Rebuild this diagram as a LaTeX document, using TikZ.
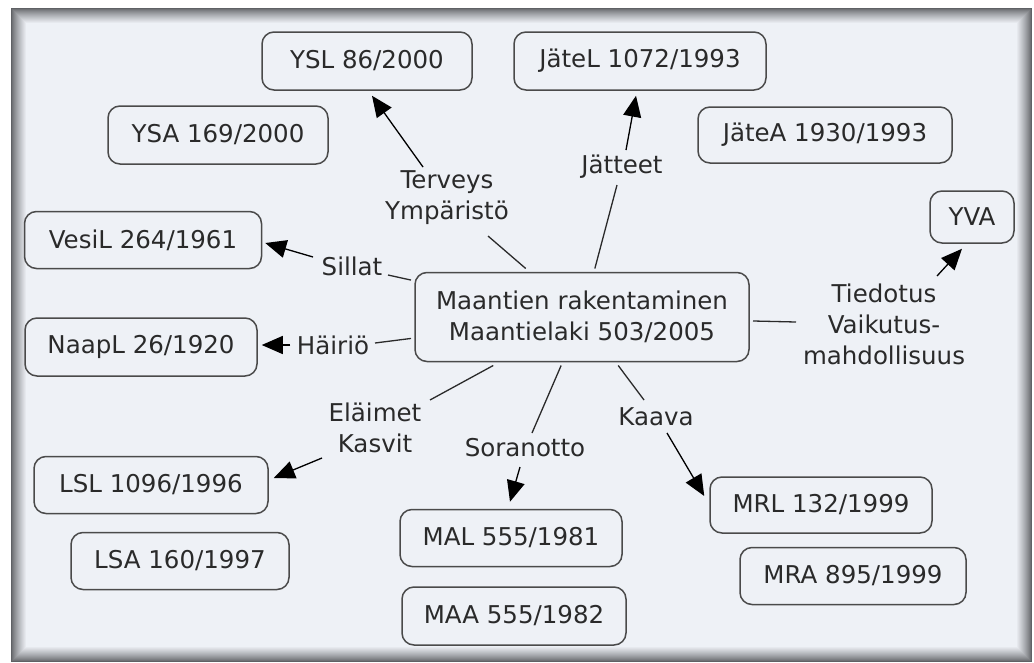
\documentclass[tikz,border=0pt]{standalone}
\usepackage{fontspec}
\setmainfont{DejaVu Sans}
\usetikzlibrary{arrows.meta,calc}
\definecolor{panelbg}{HTML}{EEF1F6}
\definecolor{ink}{HTML}{2A2A2A}
\definecolor{edge}{HTML}{4A4A4A}
\definecolor{shade}{HTML}{5F6165}
\begin{document}
\begin{tikzpicture}[x=1pt,y=-1pt,
  every node/.style={font=\fontsize{24.5}{31}\selectfont, text=ink},
  law/.style={draw=edge, line width=1.5pt, rounded corners=12pt, inner sep=0pt, align=center},
  lbl/.style={align=center, inner sep=0pt},
  conn/.style={draw=ink, line width=1.3pt},
  arr/.style={conn, -{Triangle[length=21pt,width=18pt]}, draw=black, fill=black},
]
\useasboundingbox (0,0) rectangle (1034,662);
\fill[white] (0,0) rectangle (1034,662);
% panel with inner shading
\fill[panelbg] (11,8) rectangle (1032,662);
\foreach \i in {0,...,15} {
  \pgfmathsetmacro\p{100*(\i/15)^0.8}
  \draw[draw=panelbg!\p!shade, line width=1pt] (11.5+\i,8.5+\i) rectangle (1031.5-\i,661.5-\i);
}

% law boxes
\node[law, minimum width=210pt, minimum height=58pt] (YSL) at (367,61) {YSL 86/2000};
\node[law, minimum width=220pt, minimum height=58pt] (YSA) at (218,135) {YSA 169/2000};
\node[law, minimum width=252pt, minimum height=58pt] (JL) at (640,61) {JäteL 1072/1993};
\node[law, minimum width=254pt, minimum height=56pt] (JA) at (825,135) {JäteA 1930/1993};
\node[law, minimum width=84pt, minimum height=52pt] (YVA) at (972,217) {YVA};
\node[law, minimum width=237pt, minimum height=57pt] (VL) at (143,240) {VesiL 264/1961};
\node[law, minimum width=232pt, minimum height=58pt] (NL) at (141,347) {NaapL 26/1920};
\node[law, minimum width=234pt, minimum height=57pt] (LSL) at (151,485) {LSL 1096/1996};
\node[law, minimum width=218pt, minimum height=57pt] (LSA) at (180,561) {LSA 160/1997};
\node[law, minimum width=222pt, minimum height=57pt] (MAL) at (511,538) {MAL 555/1981};
\node[law, minimum width=224pt, minimum height=58pt] (MAA) at (514,616) {MAA 555/1982};
\node[law, minimum width=222pt, minimum height=56pt] (MRL) at (821,505) {MRL 132/1999};
\node[law, minimum width=226pt, minimum height=57pt] (MRA) at (853,576) {MRA 895/1999};

% main node
\node[law, minimum width=334pt, minimum height=89pt, outer sep=4pt] (M) at (582,317) {Maantien rakentaminen\\Maantielaki 503/2005};

% linking labels
\node[lbl] (T) at (447,198) {Terveys\\Ympäristö};
\node[lbl] (J) at (622,167) {Jätteet};
\node[lbl] (S) at (352,266) {Sillat};
\node[lbl] (H) at (333,345) {Häiriö};
\node[lbl] (E) at (375,428) {Eläimet\\Kasvit};
\node[lbl] (So) at (525,448) {Soranotto};
\node[lbl] (K) at (656,417) {Kaava};
\node[lbl] (Ti) at (884,324) {Tiedotus\\Vaikutus-\\mahdollisuus};

% lines from main node to labels
\draw[conn] (M) -- ($(T)+(41,38)$);
\draw[conn] (M) -- ($(J)+(-5,18)$);
\draw[conn] (M) -- ($(S)+(36,9)$);
\draw[conn] (M) -- ($(H)+(42,-2)$);
\draw[conn] (M) -- ($(E)+(55,-28)$);
\draw[conn] (M) -- ($(So)+(7,-15)$);
\draw[conn] (M) -- ($(K)+(-12,-17)$);
\draw[conn] (M) -- ($(Ti)+(-88,-2)$);

% arrows from labels to laws
\draw[arr] ($(T)+(-24,-31)$) -- ($(YSL.south)+(5,5)$);
\draw[arr] ($(J)+(4,-17)$) -- ($(JL.south)+(-4,5)$);
\draw[arr] ($(S)+(-39,-9)$) -- ($(VL.east)+(3,3)$);
\draw[arr] ($(H)+(-43,0)$) -- ($(NL.east)+(4,-2)$);
\draw[arr] ($(E)+(-53,30)$) -- ($(LSL.east)+(5,-7)$);
\draw[arr] ($(So)+(-5,19)$) -- ($(MAL.north)+(-1,-7)$);
\draw[arr] ($(K)+(11,16)$) -- ($(MRL.west)+(-5,-9)$);
\draw[arr] ($(Ti)+(53,-48)$) -- ($(YVA.south)+(-10,5)$);
\end{tikzpicture}
\end{document}
